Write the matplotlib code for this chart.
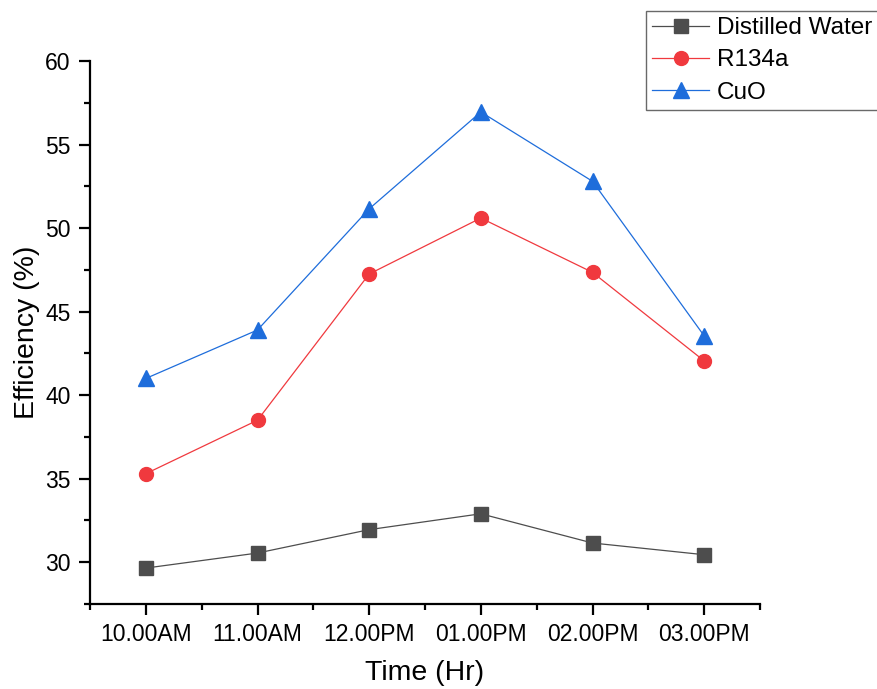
import numpy as np
import matplotlib
matplotlib.use("Agg")
import matplotlib.pyplot as plt
from matplotlib.ticker import MultipleLocator

plt.rcParams['font.family'] = ['Liberation Sans', 'DejaVu Sans']

czas = ["10.00AM", "11.00AM", "12.00PM", "01.00PM", "02.00PM", "03.00PM"]
woda = [29.65, 30.55, 31.95, 32.9, 31.15, 30.45]
r134a = [35.3, 38.5, 47.25, 50.6, 47.35, 42.05]
cuo = [41.0, 43.9, 51.15, 56.95, 52.8, 43.55]

fig = plt.figure(figsize=(8.77, 6.89), dpi=100)
ax = fig.add_axes([90/877, 1-604/689, (760-90)/877, (604-61)/689])

x = np.arange(len(czas))
ax.plot(x, woda, color='#4d4d4d', lw=0.9, marker='s', ms=9.5, label='Distilled Water')
ax.plot(x, r134a, color='#f0393e', lw=0.9, marker='o', ms=10, label='R134a')
ax.plot(x, cuo, color='#1e6ddb', lw=0.9, marker='^', ms=11, label='CuO')

ax.set_xlim(-0.5, 5.5)
ax.set_ylim(27.5, 60)
ax.set_xticks(x)
ax.set_xticklabels(czas)
ax.xaxis.set_minor_locator(MultipleLocator(0.5))
ax.yaxis.set_minor_locator(MultipleLocator(2.5))
ax.set_yticks([30, 35, 40, 45, 50, 55, 60])

for s in ['top', 'right']:
    ax.spines[s].set_visible(False)
for s in ['left', 'bottom']:
    ax.spines[s].set_linewidth(1.6)
ax.tick_params(which='major', direction='out', length=8, width=1.6, labelsize=16.5, pad=6)
ax.tick_params(which='minor', direction='out', length=4.5, width=1.6)

ax.set_xlabel("Time (Hr)", fontsize=20.5, labelpad=10)
ax.set_ylabel("Efficiency (%)", fontsize=20.5, labelpad=4)

leg = ax.legend(loc='upper left', bbox_to_anchor=(646/877, 1-11/689), bbox_transform=fig.transFigure,
                fontsize=17.5, frameon=True, fancybox=False, borderpad=0.25, labelspacing=0.42,
                handlelength=2.35, handletextpad=0.33, borderaxespad=0)
leg.get_frame().set_edgecolor('#444444')
leg.get_frame().set_linewidth(1.0)

fig.savefig("out.png", dpi=100)
